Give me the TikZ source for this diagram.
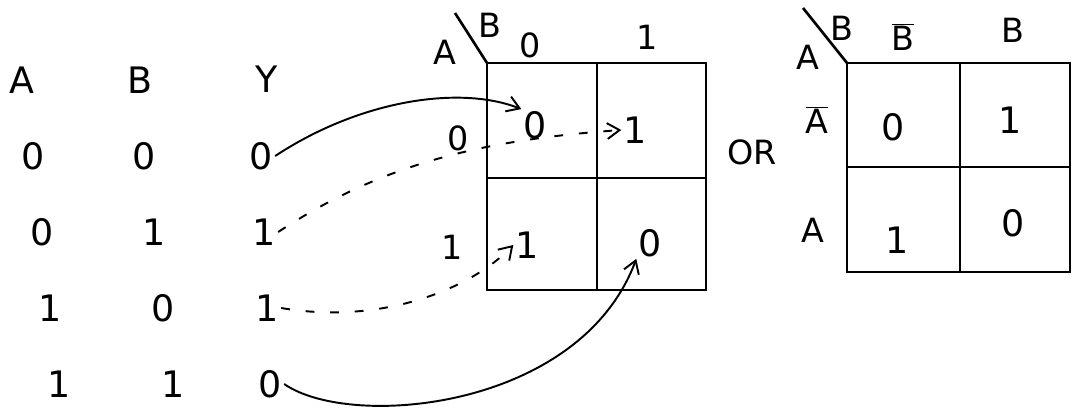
\documentclass[tikz,border=0pt]{standalone}
\usepackage{fontspec}
\setmainfont{DejaVu Sans}
\usepackage{tikz}
\usetikzlibrary{positioning,arrows.meta}

\begin{document}
\begin{tikzpicture}[
  val/.style={font=\huge, inner sep=1pt},
  lbl/.style={font=\fontsize{19}{22}\selectfont, inner sep=1pt},
  grid/.style={line width=1.5pt},
  link/.style={line width=1.1pt, -{Straight Barb[length=7pt,width=9pt]}},
  dlink/.style={link, dash pattern=on 5pt off 9pt}
]
\useasboundingbox (0,0) rectangle (21.44,-8.18);

% ---- table de verite ----------------------------------------------------
\node[val] (ha) at (0.44,-1.6) {A};
\node[val] (hb) at (2.8,-1.6) {B};
\node[val] (hy) at (5.34,-1.58) {Y};
\foreach \a/\b/\y [count=\r] in {0/0/0,0/1/1,1/0/1,1/1/0}{
  \node[val] (a\r) at (0.5+0.17*\r, -1.6-1.52*\r) {\a};
  \node[val] (b\r) at (2.7+0.19*\r, -1.6-1.52*\r) {\b};
  \node[val] (y\r) at (5.17+0.06*\r, -1.6-1.52*\r) {\y};
}

% ---- premiere carte (0/1) -----------------------------------------------
\coordinate (ka) at (9.74,-1.26);
\draw[grid] (ka) rectangle (14.12,-5.8);
\draw[grid] (11.94,-1.26) -- (11.94,-5.8);
\draw[grid] (9.74,-3.56) -- (14.12,-3.56);
\draw[grid] (9.1,-0.26) -- (ka);
\node[lbl] (kaA) at (8.9,-1.04) {A};
\node[lbl] (kaB) at (9.8,-0.5) {B};
\node[lbl] (kac0) at (10.6,-0.9) {0};
\node[lbl] (kac1) at (12.94,-0.74) {1};
\node[lbl] (kar0) at (9.16,-2.76) {0};
\node[lbl] (kar1) at (9.04,-4.94) {1};
\node[val] (v00) at (10.7,-2.5) {0};
\node[val] (v01) at (12.7,-2.6) {1};
\node[val] (v10) at (10.54,-4.9) {1};
\node[val] (v11) at (13.0,-4.86) {0};

% ---- fleches table -> carte ---------------------------------------------
\draw[link] (y1.east) .. controls (7.2,-2.0) and (9.2,-1.7) .. (v00.north west);
\draw[dlink] (y2.east) .. controls (7.6,-3.3) and (9.6,-2.8) .. (v01.west);
\draw[dlink] (y3.east) .. controls (7.6,-6.5) and (9.4,-5.8) .. (v10.west);
\draw[link] (y4.east) .. controls (7.0,-8.6) and (11.6,-8.2) .. (v11.south west);

\node[lbl] (or) at (15.04,-3.04) {OR};

% ---- seconde carte (A, B barres) ----------------------------------------
\coordinate (kb) at (16.94,-1.26);
\draw[grid] (kb) rectangle (21.4,-5.44);
\draw[grid] (19.2,-1.26) -- (19.2,-5.44);
\draw[grid] (16.94,-3.34) -- (21.4,-3.34);
\draw[grid] (16.06,-0.16) -- (kb);
\node[lbl] (kbA) at (16.16,-1.14) {A};
\node[lbl] (kbB) at (16.84,-0.56) {B};
\node[lbl] (kbc0) at (18.06,-0.74) {$\overline{\mbox{B}}$};
\node[lbl] (kbc1) at (20.26,-0.6) {B};
\node[lbl] (kbr0) at (16.34,-2.4) {$\overline{\mbox{A}}$};
\node[lbl] (kbr1) at (16.26,-4.6) {A};
\node[val] (w00) at (17.86,-2.54) {0};
\node[val] (w01) at (20.2,-2.4) {1};
\node[val] (w10) at (17.94,-4.8) {1};
\node[val] (w11) at (20.26,-4.46) {0};
\end{tikzpicture}
\end{document}
